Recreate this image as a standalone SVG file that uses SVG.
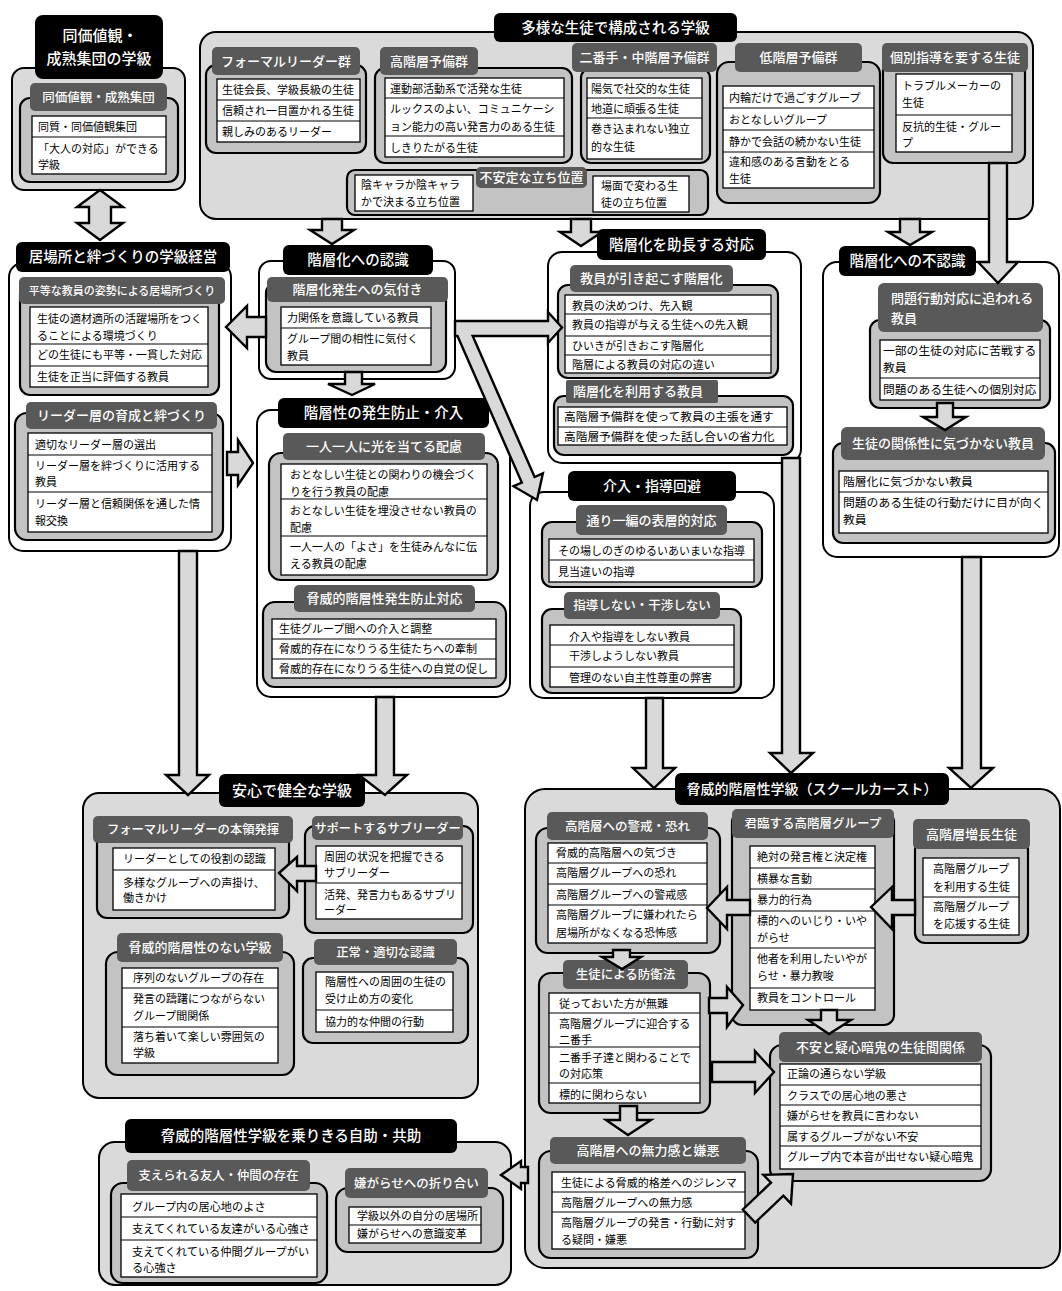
<svg xmlns="http://www.w3.org/2000/svg" width="1062" height="1291" viewBox="0 0 1062 1291">
<style>
text{font-family:"Noto Sans CJK JP","Noto Sans CJK SC",sans-serif}
.pg{fill:#dadada;stroke:#000;stroke-width:2}
.pw{fill:#fff;stroke:#000;stroke-width:2}
.in{fill:#c3c3c3;stroke:#000;stroke-width:2.2}
.hd{fill:#595959}
.tl{fill:#000}
.bx{fill:#fff;stroke:#000;stroke-width:1.3}
.rl{stroke:#000;stroke-width:1.1;fill:none}
.it{font-size:11px;fill:#000}
.ht{font-size:13px;fill:#fff;text-anchor:middle;font-weight:500}
.tt{font-size:14.5px;fill:#fff;text-anchor:middle;font-weight:500}
.ar{fill:#d9d9d9;stroke:#000;stroke-width:2.4;stroke-linejoin:miter}
</style>
<rect width="1062" height="1291" fill="#fff"/>

<g id="n-doukachi">
<rect class="pg" x="12" y="68" width="173" height="122" rx="12"/>
<rect class="in" x="20" y="98" width="158" height="84" rx="10"/>
<rect class="hd" x="30" y="83" width="137" height="28" rx="5"/>
<text class="ht" x="98.5" y="101.5" style="font-size:12.5px">同価値観・成熟集団</text>
<rect class="bx" x="32" y="116" width="134" height="58"/>
<path class="rl" d="M32 137H166"/>
<text class="it" x="38" y="131">同質・同価値観集団</text>
<text class="it" x="38" y="153">「大人の対応」ができる</text>
<text class="it" x="38" y="169">学級</text>
<rect class="tl" x="35" y="15" width="128" height="64" rx="8"/>
<text class="tt" x="100" y="41" style="font-size:15px">同価値観・</text>
<text class="tt" x="99" y="64" style="font-size:15px">成熟集団の学級</text>
</g>

<g id="n-tayou">
<rect class="pg" x="200" y="32" width="833" height="187" rx="16"/>
<rect class="tl" x="494" y="13" width="243" height="29" rx="6"/>
<text class="tt" x="615.5" y="32.5">多様な生徒で構成される学級</text>
<rect class="in" x="206" y="65" width="160" height="88" rx="10"/>
<rect class="hd" x="212" y="47" width="148" height="28" rx="5"/>
<text class="ht" x="286" y="65.5">フォーマルリーダー群</text>
<rect class="bx" x="217" y="79" width="143" height="63"/>
<path class="rl" d="M217 100H360M217 121H360"/>
<text class="it" x="222" y="94">生徒会長、学級長級の生徒</text>
<text class="it" x="222" y="115">信頼され一目置かれる生徒</text>
<text class="it" x="222" y="136">親しみのあるリーダー</text>

<rect class="in" x="375" y="68" width="197" height="95" rx="10"/>
<rect class="hd" x="380" y="47" width="98" height="28" rx="5"/>
<text class="ht" x="429" y="65.5">高階層予備群</text>
<rect class="bx" x="385" y="78" width="179" height="79"/>
<path class="rl" d="M385 98H564M385 136H564"/>
<text class="it" x="390" y="93">運動部活動系で活発な生徒</text>
<text class="it" x="390" y="113">ルックスのよい、コミュニケーシ</text>
<text class="it" x="390" y="131">ョン能力の高い発言力のある生徒</text>
<text class="it" x="390" y="152">しきりたがる生徒</text>

<rect class="in" x="581" y="68" width="129" height="95" rx="10"/>
<rect class="hd" x="572" y="43" width="145" height="29" rx="5"/>
<text class="ht" x="644.5" y="62">二番手・中階層予備群</text>
<rect class="bx" x="587" y="78" width="115" height="81"/>
<path class="rl" d="M587 98H702M587 118H702"/>
<text class="it" x="591" y="93">陽気で社交的な生徒</text>
<text class="it" x="591" y="113">地道に頑張る生徒</text>
<text class="it" x="591" y="133">巻き込まれない独立</text>
<text class="it" x="591" y="151">的な生徒</text>

<rect class="in" x="717" y="62" width="163" height="141" rx="12"/>
<rect class="hd" x="735" y="43" width="127" height="29" rx="5"/>
<text class="ht" x="798.5" y="62">低階層予備群</text>
<rect class="bx" x="723" y="86" width="151" height="102"/>
<path class="rl" d="M723 108H874M723 130H874M723 152H874"/>
<text class="it" x="729" y="102">内輪だけで過ごすグループ</text>
<text class="it" x="729" y="124">おとなしいグループ</text>
<text class="it" x="729" y="146">静かで会話の続かない生徒</text>
<text class="it" x="729" y="166">違和感のある言動をとる</text>
<text class="it" x="729" y="183">生徒</text>

<rect class="in" x="883" y="62" width="142" height="101" rx="10"/>
<rect class="hd" x="882" y="43" width="146" height="29" rx="5"/>
<text class="ht" x="955" y="62">個別指導を要する生徒</text>
<rect class="bx" x="896" y="74" width="116" height="78"/>
<path class="rl" d="M896 115H1012"/>
<text class="it" x="902" y="90">トラブルメーカーの</text>
<text class="it" x="902" y="107">生徒</text>
<text class="it" x="902" y="131">反抗的生徒・グルー</text>
<text class="it" x="902" y="147">プ</text>

<rect class="in" x="347" y="170" width="361" height="45" rx="8"/>
<rect class="hd" x="476" y="167" width="111" height="21" rx="5"/>
<text class="ht" x="531.5" y="182">不安定な立ち位置</text>
<rect class="bx" x="355" y="175" width="118" height="36"/>
<text class="it" x="361" y="189">陰キャラか陰キャラ</text>
<text class="it" x="361" y="206">かで決まる立ち位置</text>
<rect class="bx" x="593" y="176" width="96" height="36"/>
<text class="it" x="601" y="190">場面で変わる生</text>
<text class="it" x="601" y="207">徒の立ち位置</text>
</g>

<g id="n-ibasho">
<rect class="pw" x="9" y="263" width="222" height="288" rx="14"/>
<rect class="tl" x="16" y="242" width="214" height="30" rx="6"/>
<text class="tt" x="123" y="262">居場所と絆づくりの学級経営</text>
<rect class="in" x="20" y="284" width="199" height="111" rx="10"/>
<rect class="hd" x="19" y="277" width="206" height="27" rx="5"/>
<text class="ht" x="122" y="294.5" style="font-size:11px">平等な教員の姿勢による居場所づくり</text>
<rect class="bx" x="30" y="307" width="178" height="80"/>
<path class="rl" d="M30 344H208M30 366H208"/>
<text class="it" x="37" y="323">生徒の適材適所の活躍場所をつく</text>
<text class="it" x="37" y="340">ることによる環境づくり</text>
<text class="it" x="37" y="359">どの生徒にも平等・一貫した対応</text>
<text class="it" x="37" y="381">生徒を正当に評価する教員</text>
<rect class="in" x="15" y="413" width="208" height="127" rx="12"/>
<rect class="hd" x="26" y="402" width="191" height="27" rx="5"/>
<text class="ht" x="121.5" y="420">リーダー層の育成と絆づくり</text>
<rect class="bx" x="28" y="433" width="184" height="99"/>
<path class="rl" d="M28 455H212M28 492H212"/>
<text class="it" x="35" y="449">適切なリーダー層の選出</text>
<text class="it" x="35" y="470">リーダー層を絆づくりに活用する</text>
<text class="it" x="35" y="486">教員</text>
<text class="it" x="35" y="508">リーダー層と信頼関係を通した情</text>
<text class="it" x="35" y="525">報交換</text>
</g>

<g id="n-ninshiki">
<rect class="pw" x="259" y="261" width="196" height="118" rx="12"/>
<rect class="tl" x="283" y="245" width="150" height="30" rx="6"/>
<text class="tt" x="358" y="265">階層化への認識</text>
<rect class="in" x="266" y="283" width="180" height="89" rx="10"/>
<rect class="hd" x="267" y="277" width="181" height="25" rx="5"/>
<text class="ht" x="357.5" y="294">階層化発生への気付き</text>
<rect class="bx" x="281" y="307" width="150" height="58"/>
<path class="rl" d="M281 328H431"/>
<text class="it" x="287" y="322">力関係を意識している教員</text>
<text class="it" x="287" y="343">グループ間の相性に気付く</text>
<text class="it" x="287" y="360">教員</text>
</g>

<g id="n-boushi">
<rect class="pw" x="257" y="410" width="253" height="287" rx="14"/>
<rect class="tl" x="278" y="398" width="211" height="30" rx="6"/>
<text class="tt" x="383.5" y="418">階層性の発生防止・介入</text>
<rect class="in" x="269" y="453" width="229" height="127" rx="12"/>
<rect class="hd" x="283" y="433" width="202" height="27" rx="5"/>
<text class="ht" x="384" y="451">一人一人に光を当てる配慮</text>
<rect class="bx" x="281" y="464" width="206" height="111"/>
<path class="rl" d="M281 499H487M281 536H487"/>
<text class="it" x="290" y="479">おとなしい生徒との関わりの機会づく</text>
<text class="it" x="290" y="496">りを行う教員の配慮</text>
<text class="it" x="290" y="515">おとなしい生徒を埋没させない教員の</text>
<text class="it" x="290" y="532">配慮</text>
<text class="it" x="290" y="551">一人一人の「よさ」を生徒みんなに伝</text>
<text class="it" x="290" y="568">える教員の配慮</text>
<rect class="in" x="263" y="602" width="243" height="85" rx="12"/>
<rect class="hd" x="294" y="585" width="181" height="27" rx="5"/>
<text class="ht" x="384.5" y="603">脅威的階層性発生防止対応</text>
<rect class="bx" x="272" y="619" width="224" height="59"/>
<path class="rl" d="M272 639H496M272 659H496"/>
<text class="it" x="279" y="633">生徒グループ間への介入と調整</text>
<text class="it" x="279" y="653">脅威的存在になりうる生徒たちへの牽制</text>
<text class="it" x="279" y="673">脅威的存在になりうる生徒への自覚の促し</text>
</g>

<g id="n-jochou">
<rect class="pw" x="548" y="252" width="253" height="211" rx="14"/>
<rect class="tl" x="597" y="229" width="169" height="31" rx="6"/>
<text class="tt" x="681.5" y="249.5">階層化を助長する対応</text>
<rect class="in" x="558" y="285" width="220" height="93" rx="10"/>
<rect class="hd" x="570" y="265" width="163" height="27" rx="5"/>
<text class="ht" x="651.5" y="283">教員が引き起こす階層化</text>
<rect class="bx" x="565" y="295" width="206" height="78"/>
<path class="rl" d="M565 314H771M565 336H771M565 355H771"/>
<text class="it" x="572" y="310">教員の決めつけ、先入観</text>
<text class="it" x="572" y="329">教員の指導が与える生徒への先入観</text>
<text class="it" x="572" y="350">ひいきが引きおこす階層化</text>
<text class="it" x="572" y="369">階層による教員の対応の違い</text>
<rect class="in" x="554" y="396" width="239" height="59" rx="10"/>
<rect class="hd" x="566" y="380" width="152" height="23" rx="2"/>
<text class="ht" x="638" y="396">階層化を利用する教員</text>
<rect class="bx" x="558" y="407" width="229" height="38"/>
<path class="rl" d="M558 427H787"/>
<text class="it" x="564" y="421" style="font-size:11.7px">高階層予備群を使って教員の主張を通す</text>
<text class="it" x="564" y="441" style="font-size:11.7px">高階層予備群を使った話し合いの省力化</text>
</g>

<g id="n-kaihi">
<rect class="pw" x="530" y="492" width="244" height="206" rx="14"/>
<rect class="tl" x="568" y="471" width="168" height="30" rx="6"/>
<text class="tt" x="652" y="491" style="font-size:14px">介入・指導回避</text>
<rect class="in" x="542" y="522" width="220" height="65" rx="10"/>
<rect class="hd" x="576" y="505" width="151" height="30" rx="5"/>
<text class="ht" x="651.5" y="524.5">通り一編の表層的対応</text>
<rect class="bx" x="549" y="539" width="205" height="43"/>
<path class="rl" d="M549 560H754"/>
<text class="it" x="558" y="555">その場しのぎのゆるいあいまいな指導</text>
<text class="it" x="558" y="576">見当違いの指導</text>
<rect class="in" x="542" y="609" width="199" height="84" rx="10"/>
<rect class="hd" x="564" y="592" width="156" height="27" rx="5"/>
<text class="ht" x="642" y="610" style="font-size:12.5px">指導しない・干渉しない</text>
<rect class="bx" x="550" y="625" width="184" height="62"/>
<path class="rl" d="M550 645H734M550 667H734"/>
<text class="it" x="569" y="641">介入や指導をしない教員</text>
<text class="it" x="569" y="660">干渉しようしない教員</text>
<text class="it" x="569" y="682">管理のない自主性尊重の弊害</text>
</g>

<g id="n-funinshiki">
<rect class="pw" x="823" y="262" width="236" height="295" rx="14"/>
<rect class="tl" x="839" y="246" width="137" height="30" rx="6"/>
<text class="tt" x="907.5" y="266">階層化への不認識</text>
<rect class="in" x="870" y="320" width="180" height="88" rx="10"/>
<rect class="hd" x="878" y="283" width="165" height="49" rx="6"/>
<text class="ht" x="891" y="303" style="text-anchor:start">問題行動対応に追われる</text>
<text class="ht" x="891" y="323" style="text-anchor:start">教員</text>
<rect class="bx" x="880" y="340" width="160" height="60"/>
<path class="rl" d="M880 378H1040"/>
<text class="it" x="883" y="355" style="font-size:11.8px">一部の生徒の対応に苦戦する</text>
<text class="it" x="883" y="372" style="font-size:11.8px">教員</text>
<text class="it" x="883" y="394" style="font-size:11.8px">問題のある生徒への個別対応</text>
<rect class="in" x="833" y="443" width="222" height="100" rx="10"/>
<rect class="hd" x="841" y="427" width="204" height="33" rx="6"/>
<text class="ht" x="943" y="448">生徒の関係性に気づかない教員</text>
<rect class="bx" x="839" y="471" width="209" height="62"/>
<path class="rl" d="M839 492H1048"/>
<text class="it" x="843" y="486" style="font-size:11.8px">階層化に気づかない教員</text>
<text class="it" x="843" y="507" style="font-size:11.8px">問題のある生徒の行動だけに目が向く</text>
<text class="it" x="843" y="524" style="font-size:11.8px">教員</text>
</g>

<g id="n-anshin">
<rect class="pg" x="83" y="793" width="395" height="305" rx="16"/>
<rect class="tl" x="219" y="774" width="146" height="33" rx="6"/>
<text class="tt" x="292" y="796" style="font-size:15px">安心で健全な学級</text>
<rect class="in" x="97" y="826" width="192" height="92" rx="10"/>
<rect class="hd" x="93" y="816" width="200" height="27" rx="5"/>
<text class="ht" x="193" y="834" style="font-size:12.3px">フォーマルリーダーの本領発揮</text>
<rect class="bx" x="113" y="848" width="162" height="62"/>
<path class="rl" d="M113 870H275"/>
<text class="it" x="123" y="863">リーダーとしての役割の認識</text>
<text class="it" x="123" y="887">多様なグループへの声掛け、</text>
<text class="it" x="123" y="902">働きかけ</text>
<rect class="in" x="305" y="826" width="168" height="107" rx="10"/>
<rect class="hd" x="312" y="816" width="151" height="24" rx="5"/>
<text class="ht" x="387.5" y="832.5" style="font-size:12.2px">サポートするサブリーダー</text>
<rect class="bx" x="316" y="846" width="146" height="73"/>
<path class="rl" d="M316 883H462"/>
<text class="it" x="324" y="861">周囲の状況を把握できる</text>
<text class="it" x="324" y="877">サブリーダー</text>
<text class="it" x="324" y="899">活発、発言力もあるサブリ</text>
<text class="it" x="324" y="914">ーダー</text>
<rect class="in" x="106" y="952" width="188" height="123" rx="12"/>
<rect class="hd" x="117" y="933" width="166" height="29" rx="5"/>
<text class="ht" x="200" y="952">脅威的階層性のない学級</text>
<rect class="bx" x="122" y="968" width="156" height="95"/>
<path class="rl" d="M122 988H278M122 1027H278"/>
<text class="it" x="133" y="982">序列のないグループの存在</text>
<text class="it" x="133" y="1003">発言の躊躇につながらない</text>
<text class="it" x="133" y="1020">グループ間関係</text>
<text class="it" x="133" y="1041">落ち着いて楽しい雰囲気の</text>
<text class="it" x="133" y="1057">学級</text>
<rect class="in" x="303" y="958" width="165" height="85" rx="10"/>
<rect class="hd" x="314" y="939" width="143" height="26" rx="5"/>
<text class="ht" x="385.5" y="956.5" style="font-size:12.3px">正常・適切な認識</text>
<rect class="bx" x="316" y="972" width="137" height="60"/>
<path class="rl" d="M316 1010H453"/>
<text class="it" x="325" y="986">階層性への周囲の生徒の</text>
<text class="it" x="325" y="1003">受け止め方の変化</text>
<text class="it" x="325" y="1026">協力的な仲間の行動</text>
</g>

<g id="n-caste">
<rect class="pg" x="525" y="789" width="535" height="479" rx="20"/>
<rect class="tl" x="675" y="773" width="274" height="32" rx="6"/>
<text class="tt" x="812" y="794" style="font-size:14px">脅威的階層性学級（スクールカースト）</text>
<rect class="in" x="536" y="828" width="184" height="125" rx="12"/>
<rect class="hd" x="547" y="812" width="161" height="28" rx="5"/>
<text class="ht" x="627.5" y="830.5" style="font-size:12.5px">高階層への警戒・恐れ</text>
<rect class="bx" x="548" y="843" width="159" height="100"/>
<path class="rl" d="M548 863H707M548 884H707M548 905H707"/>
<text class="it" x="556" y="857">脅威的高階層への気づき</text>
<text class="it" x="556" y="877">高階層グループへの恐れ</text>
<text class="it" x="556" y="899">高階層グループへの警戒感</text>
<text class="it" x="556" y="919">高階層グループに嫌われたら</text>
<text class="it" x="556" y="937">居場所がなくなる恐怖感</text>

<rect class="in" x="732" y="812" width="162" height="213" rx="10"/>
<rect class="hd" x="732" y="809" width="162" height="29" rx="5"/>
<text class="ht" x="813" y="828" style="font-size:12.5px">君臨する高階層グループ</text>
<rect class="bx" x="750" y="846" width="125" height="164"/>
<path class="rl" d="M750 868H875M750 889H875M750 911H875M750 948H875M750 988H875"/>
<text class="it" x="757" y="861">絶対の発言権と決定権</text>
<text class="it" x="757" y="883">横暴な言動</text>
<text class="it" x="757" y="904">暴力的行為</text>
<text class="it" x="757" y="925">標的へのいじり・いや</text>
<text class="it" x="757" y="942">がらせ</text>
<text class="it" x="757" y="963">他者を利用したいやが</text>
<text class="it" x="757" y="980">らせ・暴力教唆</text>
<text class="it" x="757" y="1002">教員をコントロール</text>

<rect class="in" x="915" y="840" width="113" height="103" rx="10"/>
<rect class="hd" x="913" y="819" width="117" height="30" rx="5"/>
<text class="ht" x="971.5" y="838.5">高階層増長生徒</text>
<rect class="bx" x="923" y="858" width="96" height="77"/>
<path class="rl" d="M923 897H1019"/>
<text class="it" x="933" y="873">高階層グループ</text>
<text class="it" x="933" y="891">を利用する生徒</text>
<text class="it" x="933" y="911">高階層グループ</text>
<text class="it" x="933" y="928">を応援する生徒</text>

<rect class="in" x="539" y="973" width="171" height="140" rx="12"/>
<rect class="hd" x="563" y="960" width="125" height="29" rx="5"/>
<text class="ht" x="625.5" y="979" style="font-size:12.5px">生徒による防衛法</text>
<rect class="bx" x="549" y="993" width="151" height="110"/>
<path class="rl" d="M549 1013H700M549 1047H700M549 1083H700"/>
<text class="it" x="559" y="1008">従っておいた方が無難</text>
<text class="it" x="559" y="1028">高階層グループに迎合する</text>
<text class="it" x="559" y="1044">二番手</text>
<text class="it" x="559" y="1062">二番手子達と関わることで</text>
<text class="it" x="559" y="1078">の対応策</text>
<text class="it" x="559" y="1099">標的に関わらない</text>

<rect class="in" x="770" y="1045" width="221" height="136" rx="12"/>
<rect class="hd" x="779" y="1032" width="203" height="30" rx="5"/>
<text class="ht" x="880.5" y="1051.5">不安と疑心暗鬼の生徒間関係</text>
<rect class="bx" x="780" y="1064" width="201" height="105"/>
<path class="rl" d="M780 1085H981M780 1105H981M780 1126H981M780 1146H981"/>
<text class="it" x="787" y="1078">正論の通らない学級</text>
<text class="it" x="787" y="1100">クラスでの居心地の悪さ</text>
<text class="it" x="787" y="1120">嫌がらせを教員に言わない</text>
<text class="it" x="787" y="1141">属するグループがない不安</text>
<text class="it" x="787" y="1161">グループ内で本音が出せない疑心暗鬼</text>

<rect class="in" x="539" y="1151" width="219" height="107" rx="12"/>
<rect class="hd" x="550" y="1137" width="196" height="27" rx="5"/>
<text class="ht" x="648" y="1155">高階層への無力感と嫌悪</text>
<rect class="bx" x="552" y="1172" width="193" height="77"/>
<path class="rl" d="M552 1192H745M552 1212H745"/>
<text class="it" x="561" y="1187">生徒による脅威的格差へのジレンマ</text>
<text class="it" x="561" y="1207">高階層グループへの無力感</text>
<text class="it" x="561" y="1227">高階層グループの発言・行動に対す</text>
<text class="it" x="561" y="1244">る疑問・嫌悪</text>
</g>

<g id="n-jijo">
<rect class="pg" x="99" y="1142" width="412" height="143" rx="16"/>
<rect class="tl" x="125" y="1119" width="332" height="34" rx="6"/>
<text class="tt" x="291" y="1141">脅威的階層性学級を乗りきる自助・共助</text>
<rect class="in" x="111" y="1183" width="216" height="100" rx="12"/>
<rect class="hd" x="127" y="1160" width="183" height="31" rx="5"/>
<text class="ht" x="218.5" y="1180" style="font-size:12.3px">支えられる友人・仲間の存在</text>
<rect class="bx" x="121" y="1194" width="196" height="83"/>
<path class="rl" d="M121 1217H317M121 1240H317"/>
<text class="it" x="132" y="1211" style="font-size:11.2px">グループ内の居心地のよさ</text>
<text class="it" x="132" y="1233" style="font-size:11.2px">支えてくれている友達がいる心強さ</text>
<text class="it" x="132" y="1256" style="font-size:11.2px">支えてくれている仲間グループがい</text>
<text class="it" x="132" y="1272" style="font-size:11.2px">る心強さ</text>
<rect class="in" x="336" y="1188" width="167" height="64" rx="12"/>
<rect class="hd" x="345" y="1168" width="143" height="30" rx="5"/>
<text class="ht" x="416.5" y="1187.5" style="font-size:12.5px">嫌がらせへの折り合い</text>
<rect class="bx" x="349" y="1207" width="132" height="36"/>
<path class="rl" d="M349 1225H481"/>
<text class="it" x="357" y="1220">学級以外の自分の居場所</text>
<text class="it" x="357" y="1238">嫌がらせへの意識変革</text>
</g>

<g id="connectors">
<polygon class="ar" points="100,190 123,207 111,207 111,223 123,223 100,240 77,223 89,223 89,207 77,207"/>
<polygon class="ar" points="322,219 342,219 342,230 354,230 332,244 310,230 322,230"/>
<polygon class="ar" points="571,219 591,219 591,232 602,232 581,246 560,232 571,232"/>
<polygon class="ar" points="900,219 920,219 920,232 932,232 910,245 888,232 900,232"/>
<polygon class="ar" points="989,163 1007,163 1007,262 1018,262 998,283 978,262 989,262"/>
<polygon class="ar" points="226,327 247,306 247,317 266,317 266,337 247,337 247,348"/>
<polygon class="ar" points="345,372 362,372 362,384 375,384 352,395 328,384 345,384"/>
<polygon class="ar" points="227,452 238,452 238,440 253,463 238,485 238,475 227,475"/>
<polygon class="ar" points="455,321 548,321 548,312 562,327.5 548,343 548,336 472.7,336 534.6,477 542.9,473.4 537,500 513.5,486.2 521.8,482.6 457.5,336 455,336"/>
<polygon class="ar" points="179,551 197,551 197,775 209,775 188,795 166,775 179,775"/>
<polygon class="ar" points="376,697 394,697 394,775 407,775 385,795 359,775 376,775"/>
<polygon class="ar" points="646,698 663,698 663,768 675,768 654,788 633,768 646,768"/>
<polygon class="ar" points="782,458 800,458 800,753 813,753 791,773 770,753 782,753"/>
<polygon class="ar" points="962,557 981,557 981,768 993,768 971,788 949,768 962,768"/>
<polygon class="ar" points="937,403 953,403 953,417 966,417 945,430 923,417 937,417"/>
<polygon class="ar" points="279,873 297,857 297,866 316,866 316,881 297,881 297,891"/>
<polygon class="ar" points="707,908 727,887 727,900 750,900 750,915 727,915 727,929"/>
<polygon class="ar" points="871,907 892,887 892,900 915,900 915,915 892,915 892,929"/>
<polygon class="ar" points="613,950 630,950 630,957 641,957 622,969 602,957 613,957"/>
<polygon class="ar" points="709,998 727,998 727,987 743,1005 727,1027 727,1013 709,1013"/>
<polygon class="ar" points="821,1010 837,1010 837,1020 851,1020 829,1034 808,1020 821,1020"/>
<polygon class="ar" points="712,1062 755,1062 755,1051 774,1072 755,1093 755,1082 712,1082"/>
<polygon class="ar" points="620,1106 637,1106 637,1120 651,1120 628,1135 606,1120 620,1120"/>
<polygon class="ar" points="742.8,1209.5 771,1182.7 763.4,1174.8 793,1174 791,1203.6 783.4,1195.7 755.2,1222.5"/>
<polygon class="ar" points="501,1175 521,1161 521,1167 528,1167 528,1183 521,1183 521,1189"/>
</g>
</svg>
